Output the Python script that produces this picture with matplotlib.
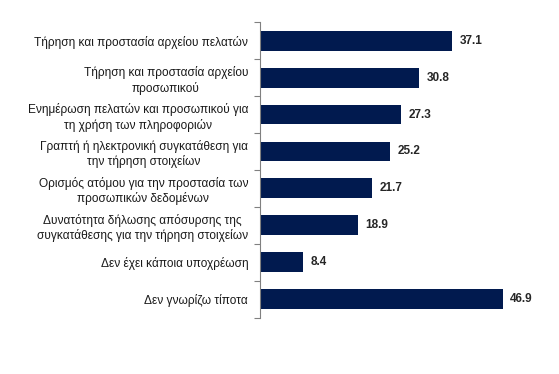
import numpy as np
import matplotlib.pyplot as plt

plt.rcParams['font.family'] = ['Liberation Sans', 'DejaVu Sans']

categories = [
    "Τήρηση και προστασία αρχείου πελατών",
    "Τήρηση και προστασία αρχείου\nπροσωπικού",
    "Ενημέρωση πελατών και προσωπικού για\nτη χρήση των πληροφοριών",
    "Γραπτή ή ηλεκτρονική συγκατάθεση για\nτην τήρηση στοιχείων",
    "Ορισμός ατόμου για την προστασία των\nπροσωπικών δεδομένων",
    "Δυνατότητα δήλωσης απόσυρσης της\nσυγκατάθεσης για την τήρηση στοιχείων",
    "Δεν έχει κάποια υποχρέωση",
    "Δεν γνωρίζω τίποτα",
]
values = [37.1, 30.8, 27.3, 25.2, 21.7, 18.9, 8.4, 46.9]

bar_color = "#011a4f"

fig = plt.figure(figsize=(5.59, 3.74), dpi=100)
ax = fig.add_axes([0.465, 0.150, 0.528, 0.791])

y = np.arange(len(values))
ax.barh(y, values, height=0.54, color=bar_color)

for yi, v in zip(y, values):
    ax.text(v + 1.4, yi, f"{v:.1f}", va='center', ha='left',
            fontsize=8.5, fontweight='bold', color='#262626')

ax.set_ylim(len(values) - 0.5, -0.5)
ax.set_xlim(0, 57)
ax.set_yticks(y)
ax.set_yticklabels(categories, fontsize=8.6, color='#1a1a1a',
                   multialignment='center', linespacing=1.25)
ax.tick_params(axis='y', which='major', length=0, pad=8.5)
ax.set_yticks(np.arange(len(values) + 1) - 0.5, minor=True)
ax.tick_params(axis='y', which='minor', length=4, width=0.8, color='#808080')

ax.set_xticks([])
for s in ['top', 'right', 'bottom']:
    ax.spines[s].set_visible(False)
ax.spines['left'].set_color('#808080')
ax.spines['left'].set_linewidth(0.8)

fig.savefig("out.png", dpi=100)
